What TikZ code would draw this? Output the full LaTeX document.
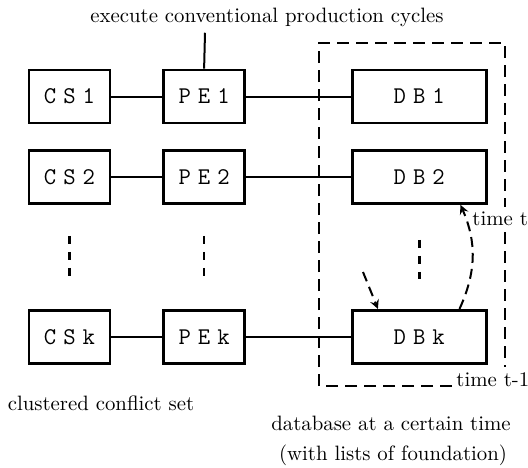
\documentclass[tikz,border=0pt]{standalone}
\usetikzlibrary{arrows, positioning}
\newcommand\lsp{\kern3.5pt}

\begin{document}
\begin{tikzpicture}[x=0.5pt, y=-0.5pt, node distance=12.5pt and 25.5pt,
    unit/.style={rectangle, draw, line width=1.3pt, minimum width=40.5pt, minimum height=26.5pt, inner sep=0pt, font=\ttfamily\large},
    dbunit/.style={unit, minimum width=67pt},
    link/.style={line width=1pt},
    vdots/.style={line width=1.3pt, dash pattern=on 4pt off 4pt},
    frame/.style={line width=1.2pt, dash pattern=on 6pt off 3.5pt},
    timearrow/.style={->, >=stealth, line width=1pt, dash pattern=on 5pt off 3pt},
    caption/.style={inner sep=0pt, font=\fontsize{10.4}{12}\selectfont}]

    \useasboundingbox (0,0) rectangle (528,467);

    % production elements, one row per cluster
    \node[unit] (cs1) at (69.5,96.5) {C\lsp S\lsp 1};
    \node[unit, right=of cs1] (pe1) {P\lsp E\lsp 1};
    \node[dbunit, right=52.5pt of pe1] (db1) {D\lsp B\lsp 1};

    \node[unit, below=of cs1] (cs2) {C\lsp S\lsp 2};
    \node[unit, right=of cs2] (pe2) {P\lsp E\lsp 2};
    \node[dbunit, right=52.5pt of pe2] (db2) {D\lsp B\lsp 2};

    \node[unit, below=52pt of cs2] (csk) {C\lsp S\lsp k};
    \node[unit, right=of csk] (pek) {P\lsp E\lsp k};
    \node[dbunit, right=52.5pt of pek] (dbk) {D\lsp B\lsp k};

    \draw[link] (cs1) -- (pe1);
    \draw[link] (pe1) -- (db1);
    \draw[link] (cs2) -- (pe2);
    \draw[link] (pe2) -- (db2);
    \draw[link] (csk) -- (pek);
    \draw[link] (pek) -- (dbk);

    % vertical dots
    \draw[vdots] ([yshift=-15.5pt]cs2.south) -- ([yshift=16.5pt]csk.north);
    \draw[vdots] ([yshift=-15.5pt]pe2.south) -- ([yshift=16.5pt]pek.north);
    \draw[vdots] ([yshift=-17.5pt]db2.south) -- ([yshift=15pt]dbk.north);

    % labels
    \node[caption] (note) at (267,17) {execute conventional production cycles};
    \draw[link] ([xshift=-31pt, yshift=-3pt]note.south) -- (pe1.north);
    \node[caption] (cluster) at (101,403) {clustered conflict set};
    \node[caption] (dbase) at (391,423) {database at a certain time};
    \node[caption] (found) at (393,455) {(with lists of foundation)};
    \node[caption, anchor=west] (tnow) at (472,219) {time t};
    \node[caption, anchor=base west] (tprev) at (456,386) {time t-1};

    % database frame
    \draw[frame] ([xshift=-2pt]tprev.base west) -- (319,386) -- (319,43) -- (505,43) -- (505,207);
    \draw[frame] (505,232) -- (505,367);

    % time steps
    \coordinate (hint) at (363,272);
    \draw[timearrow] ([xshift=-14pt]dbk.north east) to[bend right=24] ([xshift=-13.5pt]db2.south east);
    \draw[timearrow] (hint) -- ([xshift=13.5pt]dbk.north west);
\end{tikzpicture}
\end{document}
